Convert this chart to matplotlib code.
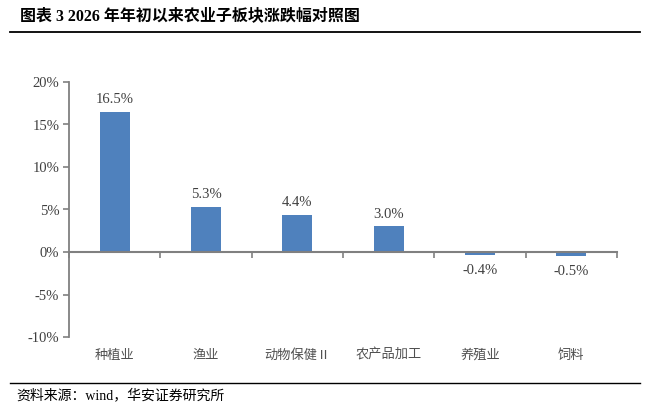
import matplotlib
matplotlib.use("Agg")
import matplotlib.pyplot as plt
from matplotlib.lines import Line2D
from matplotlib.ticker import FuncFormatter, FixedLocator

plt.rcParams['font.family'] = ['Liberation Serif', 'Noto Sans CJK SC', 'DejaVu Sans']

categories = ["种植业", "渔业", "动物保健Ⅱ", "农产品加工", "养殖业", "饲料"]
values = [16.5, 5.3, 4.4, 3.0, -0.4, -0.5]
yticks = [-10, -5, 0, 5, 10, 15, 20]
title = "图表 3 2026 年年初以来农业子板块涨跌幅对照图"
source = "资料来源：wind，华安证券研究所"

bar_color = "#4F81BD"
axis_color = "#808080"
text_color = "#404040"

fig = plt.figure(figsize=(6.55, 4.11), dpi=100)
ax = fig.add_axes([69/655, (411-337)/411, (617-69)/655, (337-82)/411])

x = list(range(len(categories)))
ax.bar(x, values, width=0.33, color=bar_color, zorder=2)

ax.set_xlim(-0.5, len(categories) - 0.5)
ax.set_ylim(yticks[0], yticks[-1])
ax.yaxis.set_major_locator(FixedLocator(yticks))
ax.yaxis.set_major_formatter(FuncFormatter(lambda v, p: f"{v:.0f}%"))
ax.tick_params(axis='y', direction='out', length=4, width=1.2, color=axis_color,
               labelsize=10.5, labelcolor=text_color, pad=3)

for s in ['top', 'right']:
    ax.spines[s].set_visible(False)
ax.spines['left'].set_color(axis_color)
ax.spines['left'].set_linewidth(1.3)
ax.spines['bottom'].set_position(('data', 0))
ax.spines['bottom'].set_color(axis_color)
ax.spines['bottom'].set_linewidth(1.5)
ax.spines['bottom'].set_zorder(3)

ax.set_xticks([i - 0.5 for i in range(len(categories) + 1)])
ax.set_xticklabels([])
ax.tick_params(axis='x', direction='out', length=4, width=1.2, color=axis_color)

for xi, v in zip(x, values):
    if v >= 0:
        ax.annotate(f"{v:.1f}%", (xi, v), xytext=(0, 4), textcoords='offset points',
                    ha='center', va='bottom', fontsize=10.5, color=text_color)
    else:
        ax.annotate(f"{v:.1f}%", (xi, v), xytext=(0, -6), textcoords='offset points',
                    ha='center', va='top', fontsize=10.5, color=text_color)

for xi, c in zip(x, categories):
    ax.annotate(c, (xi, yticks[0]), xytext=(0, -13), textcoords='offset points',
                ha='center', va='center', fontsize=9.5, color="#505050",
                annotation_clip=False,
                family=['Noto Sans CJK SC', 'DejaVu Sans'])

fig.text(20/655, 1 - 16/411, title, fontsize=11.5, fontweight='bold', ha='left', va='center',
         color='black', family=['Liberation Serif', 'Noto Sans CJK SC'])
fig.add_artist(Line2D([10/655, 640/655], [1 - 32/411, 1 - 32/411], color='black', lw=1.3,
                      transform=fig.transFigure))
fig.add_artist(Line2D([10/655, 640/655], [1 - 383/411, 1 - 383/411], color='black', lw=1.0,
                      transform=fig.transFigure))
fig.text(16/655, 1 - 395/411, source, fontsize=10, ha='left', va='center', color='black',
         family=['Liberation Serif', 'Noto Sans CJK SC'])

fig.savefig("out.png", dpi=100)
